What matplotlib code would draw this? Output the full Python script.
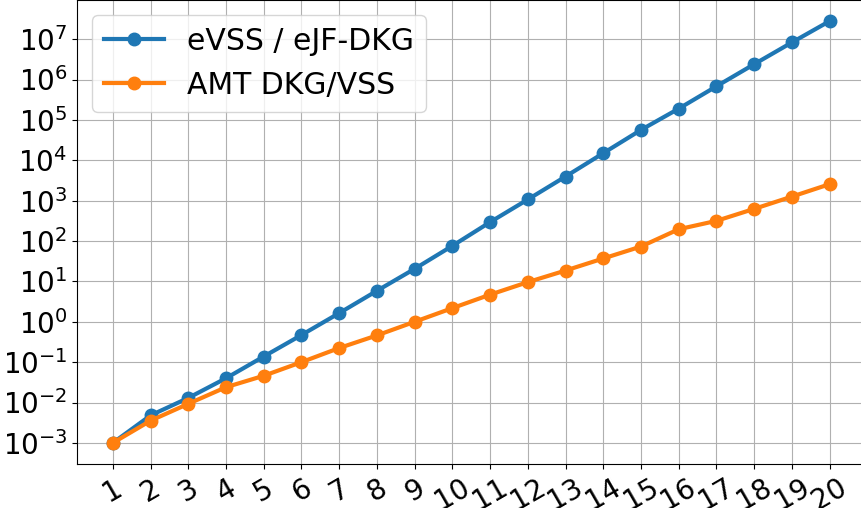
import matplotlib
matplotlib.use("Agg")
import matplotlib.pyplot as plt
from matplotlib.ticker import LogLocator

x = list(range(1, 21))
evss = [1e-3, 4.8e-3, 0.013, 0.04, 0.138, 0.47, 1.64, 5.85, 20.5, 76,
        294, 1070, 3960, 15000, 56500, 190000, 680000, 2.4e6, 8.3e6, 2.8e7]
amt = [1e-3, 3.55e-3, 9.3e-3, 0.024, 0.046, 0.1, 0.224, 0.46, 1.0, 2.18,
       4.7, 9.6, 18.6, 37, 73, 196, 316, 626, 1260, 2560]
labels = ["eVSS / eJF-DKG", "AMT DKG/VSS"]

fig = plt.figure(figsize=(8.62, 5.08), dpi=100)
ax = fig.add_axes([77/862, 44/508, (865.5-77)/862, 464/508])
ax.plot(x, evss, marker="o", lw=3, ms=9, color="#1f77b4", label=labels[0])
ax.plot(x, amt, marker="o", lw=3, ms=9, color="#ff7f0e", label=labels[1])
ax.set_yscale("log")
ax.yaxis.set_major_locator(LogLocator(base=10, numticks=30))
ax.set_xticks(x)
ax.set_xticklabels([str(v) for v in x], rotation=30, fontsize=20)
ax.tick_params(axis="y", labelsize=20)
ax.minorticks_off()
ax.grid(True, which="major")
ax.legend(loc="upper left", fontsize=21.5)
fig.savefig("out.png", dpi=100)
